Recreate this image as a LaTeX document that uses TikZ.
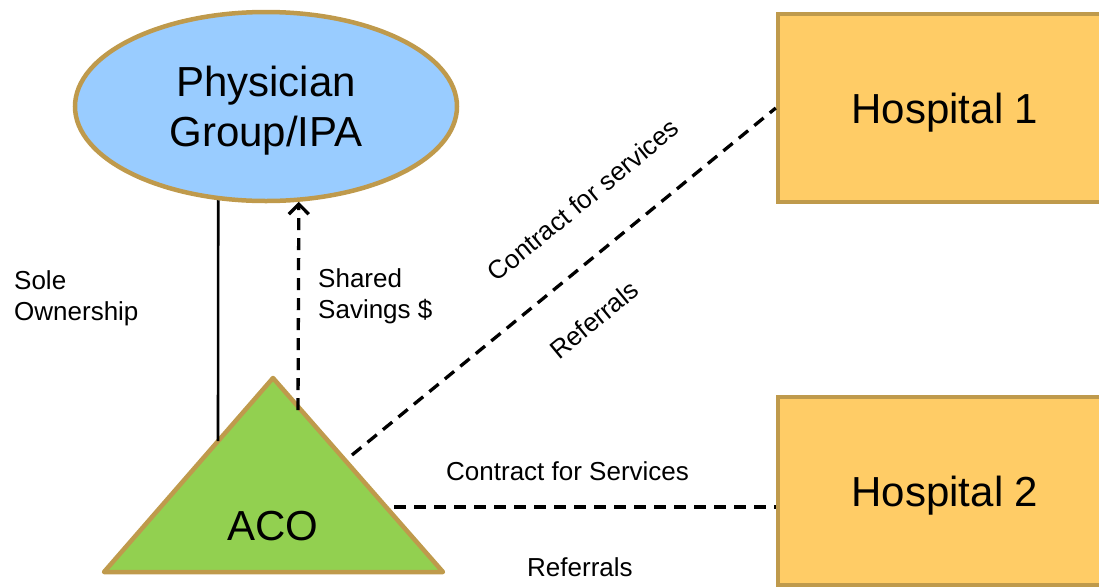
\documentclass[tikz,border=0pt]{standalone}
\usepackage{fontspec}
\setmainfont{Liberation Sans}
\usetikzlibrary{shapes.geometric,arrows.meta,calc}
\definecolor{tanline}{HTML}{BF9A4C}
\definecolor{skyfill}{HTML}{99CCFF}
\definecolor{leaffill}{HTML}{92D050}
\definecolor{amberfill}{HTML}{FFCC66}
\begin{document}
\begin{tikzpicture}[x=1pt,y=-1pt,
  shapeline/.style={draw=tanline, line width=4.5pt},
  bigtext/.style={font=\fontsize{42}{50}\selectfont},
  hospbox/.style={shapeline, fill=amberfill, rectangle, minimum width=334pt,
    minimum height=188pt, bigtext, text height=31pt, text depth=0pt, inner sep=0pt},
  smalltext/.style={font=\fontsize{26}{31}\selectfont, inner sep=0pt},
  link/.style={line width=3.3pt, dash pattern=on 12pt off 8pt},
  own/.style={line width=2.6pt}]
\useasboundingbox (0,0) rectangle (1099,587);
\clip (0,0) rectangle (1099,587);

% physician group
\node[ellipse, shapeline, fill=skyfill, minimum width=382pt, minimum height=189pt,
  inner sep=0pt, align=center, bigtext] (phys) at (266,106.5)
  {\rule{0pt}{39pt}Physician\\Group/IPA};

% hospitals
\node[hospbox] (h1) at (945,108) {Hospital 1};
\node[hospbox] (h2) at (945,491) {Hospital 2};

% ACO triangle
\coordinate (apex) at (273,378);
\coordinate (bl) at (104,572);
\coordinate (br) at (443,572);
\filldraw[shapeline, fill=leaffill, line join=round] (apex) -- (bl) -- (br) -- cycle;
\node[bigtext, anchor=base, inner sep=0pt] (aco) at (273,540) {ACO};

% connector ends on the triangle
\coordinate (ownfoot) at (218,441);
\coordinate (savfoot) at (298,410);
\coordinate (diagfoot) at (352,455);
\coordinate (horizfoot) at (394,507);

% connectors
\draw[own] (phys.-117.7) -- (ownfoot);
\draw[link, -{Straight Barb[length=10pt, width=20pt]}] (savfoot) -- (phys.-71);
\draw[link] (diagfoot) -- (h1.west);
\draw[link] (horizfoot) -- (horizfoot -| h2.west);

% labels
\node[smalltext, align=left, anchor=west] (sole) at (14,298) {Sole\\Ownership};
\node[smalltext, align=left, anchor=west] (shared) at (318,296) {Shared\\Savings \$};
\node[smalltext, rotate=39.5] (c1) at (583,200) {Contract for services};
\node[smalltext, rotate=39.5] (r1) at (594,320) {Referrals};
\node[smalltext, anchor=base west] (c2) at (446,480) {Contract for Services};
\node[smalltext, anchor=base west] (r2) at (527,576) {Referrals};
\end{tikzpicture}
\end{document}
